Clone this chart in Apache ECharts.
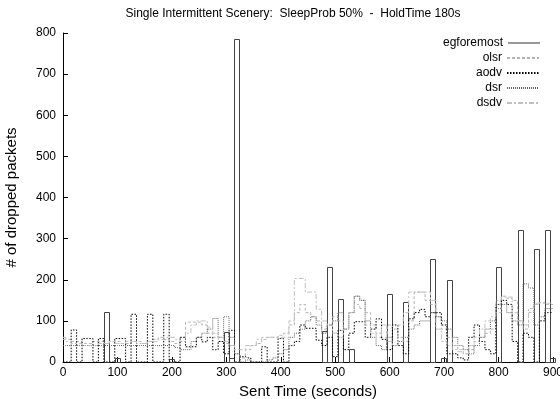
<!DOCTYPE html>
<html><head><meta charset="utf-8">
<script src="https://cdn.jsdelivr.net/npm/echarts@6/dist/echarts.min.js"></script>
<style>html,body{margin:0;padding:0;background:#fff}#c{width:560px;height:399px}</style>
</head><body><div id="c"></div>
<script>
const times = [0,10,20,30,40,50,60,70,80,90,100,110,120,130,140,150,160,170,180,190,200,210,220,230,240,250,260,270,280,290,300,310,320,330,340,350,360,370,380,390,400,410,420,430,440,450,460,470,480,490,500,510,520,530,540,550,560,570,580,590,600,610,620,630,640,650,660,670,680,690,700,710,720,730,740,750,760,770,780,790,800,810,820,830,840,850,860,870,880,890,900];
const egforemost = [0,0,0,0,0,0,0,0,122,0, 10,0,0,0,0,0,0,0,0,0, 8,0,0,0,0,0,0,0,0,0, 72,10,785,0,0,0,0,0,0,0, 0,0,0,0,0,0,0,0,75,230, 0,152,0,31,0,0,0,0,0,0, 166,0,0,147,0,0,0,0,251,0, 10,200,0,0,0,0,0,0,0,0, 230,0,0,0,320,0,0,275,0,320, 10];
const olsr = [55,55,50,50,45,45,50,50,45,50, 50,45,45,50,50,45,50,55,60,55, 50,45,60,97,97,97,90,70,60,50, 45,40,20,10,30,40,45,55,60,60, 65,70,90,120,140,120,110,100,80,90, 110,100,80,120,160,150,120,90,70,60, 90,80,60,50,100,170,170,150,140,110, 80,60,40,30,20,30,50,60,70,80, 120,160,155,150,100,80,120,140,145,140, 140];
const aodv = [0,0,78,0,57,57,0,57,0,0, 57,57,0,116,0,0,116,0,0,116, 0,0,60,37,37,60,49,60,30,50, 20,77,0,13,10,0,0,37,0,0, 57,0,40,50,90,82,82,53,40,60, 13,77,30,70,98,98,60,80,105,55, 30,90,40,20,105,120,128,110,120,120, 90,20,20,10,5,60,90,50,30,20, 140,150,140,50,0,70,60,0,100,120, 120];
const dsr = [40,40,40,40,40,40,40,40,40,40, 40,40,40,40,40,40,40,40,40,40, 40,35,30,30,50,60,70,80,106,60, 110,60,20,0,5,0,0,0,5,10, 20,30,60,70,80,100,110,90,70,90, 100,120,80,120,160,150,100,60,40,30, 60,40,50,60,80,90,100,100,120,110, 100,80,60,40,30,20,40,60,80,100, 130,140,120,100,90,190,180,90,110,130, 130];
const dsdv = [60,50,45,45,40,40,40,45,45,50, 45,45,50,50,45,45,50,50,55,60, 60,55,50,70,90,100,100,85,70,60, 50,40,30,30,40,40,55,60,60,60, 60,60,100,203,203,170,170,128,100,90, 70,60,80,120,140,130,90,70,60,90, 50,40,90,120,170,170,170,170,150,80, 50,40,30,25,20,40,60,80,100,110, 150,158,158,120,100,90,130,143,143,143, 143];
const yTicks = [0,100,200,300,400,500,600,700,800];
const xTicks = [0,100,200,300,400,500,600,700,800,900];

const pair = arr => times.map((t,i)=>[t,arr[i]]);
const FONT = 'Liberation Sans';
const chart = echarts.init(document.getElementById('c'), null, {renderer:'canvas'});
const names = ['egforemost','olsr','aodv','dsr','dsdv'];
const styles = {
  egforemost:{color:'#333', type:'solid', width:1},
  olsr:{color:'#b4b4b4', type:[3,2], width:1},
  aodv:{color:'#000', type:[1.5,1.5], width:1},
  dsr:{color:'#666', type:[1,1], width:1},
  dsdv:{color:'#c0c0c0', type:[5,2,2,2], width:1}
};
const legends = names.map((n,i)=>({
  data:[{name:n, icon: n==='egforemost' ? 'rect' : undefined}],
  right: 20, top: 37 + i*15, align:'right', orient:'vertical',
  itemWidth: 32, itemHeight: 1, itemGap: 6, padding:0,
  textStyle:{fontFamily:FONT, fontSize:12, color:'#000'},
  selectedMode:false
}));
const lineSeries = ['olsr','aodv','dsr','dsdv'].map(n=>({
  name:n, type:'line', step:'middle', symbol:'none', showSymbol:false,
  data: pair({olsr,aodv,dsr,dsdv}[n]),
  lineStyle:{color:styles[n].color, type:styles[n].type, width:styles[n].width},
  itemStyle:{color:styles[n].color},
  animation:false, clip:true
}));
const boxSeries = {
  name:'egforemost', type:'custom',
  data: pair(egforemost).filter(d=>d[1]>0),
  itemStyle:{color:'#333'},
  renderItem:(params, api)=>{
    const x = api.value(0), y = api.value(1);
    const p1 = api.coord([x-5, y]);
    const p2 = api.coord([x+5, 0]);
    return {type:'rect', shape:{x:Math.round(p1[0])+0.5, y:Math.round(p1[1])+0.5, width:Math.round(p2[0]-p1[0]), height:Math.round(p2[1]-p1[1])},
      style:{fill:'none', stroke:'#444', lineWidth:1}};
  },
  encode:{x:0,y:1}, animation:false, z:3
};
chart.setOption({
  animation:false,
  backgroundColor:'#fff',
  title:{text:'Single Intermittent Scenery:  SleepProb 50%  -  HoldTime 180s', left:288, top:3, textAlign:'center',
    textStyle:{fontFamily:FONT, fontSize:12, fontWeight:'normal', color:'#000'}},
  legend: legends,
  grid:{left:63, right:7, top:33, bottom:37, containLabel:false, outerBoundsMode:'none'},
  xAxis:{type:'value', min:0, max:900, interval:100,
    name:'Sent Time (seconds)', nameLocation:'middle', nameGap:18,
    nameTextStyle:{fontFamily:FONT, fontSize:15, color:'#000'},
    axisLine:{show:true, lineStyle:{color:'#000', width:1}},
    axisTick:{show:true, inside:true, length:5, lineStyle:{color:'#000'}},
    axisLabel:{fontFamily:FONT, fontSize:12, color:'#000', margin:5, customValues: xTicks},
    splitLine:{show:false}},
  yAxis:{type:'value', min:0, max:800, interval:100,
    name:'# of dropped packets', nameLocation:'middle', nameGap:44,
    nameTextStyle:{fontFamily:FONT, fontSize:15, color:'#000'},
    axisLine:{show:true, lineStyle:{color:'#000', width:1}},
    axisTick:{show:true, inside:true, length:5, lineStyle:{color:'#000'}},
    axisLabel:{fontFamily:FONT, fontSize:12, color:'#000', margin:7, customValues: yTicks},
    splitLine:{show:false}},
  series:[boxSeries, ...lineSeries]
});
</script></body></html>
